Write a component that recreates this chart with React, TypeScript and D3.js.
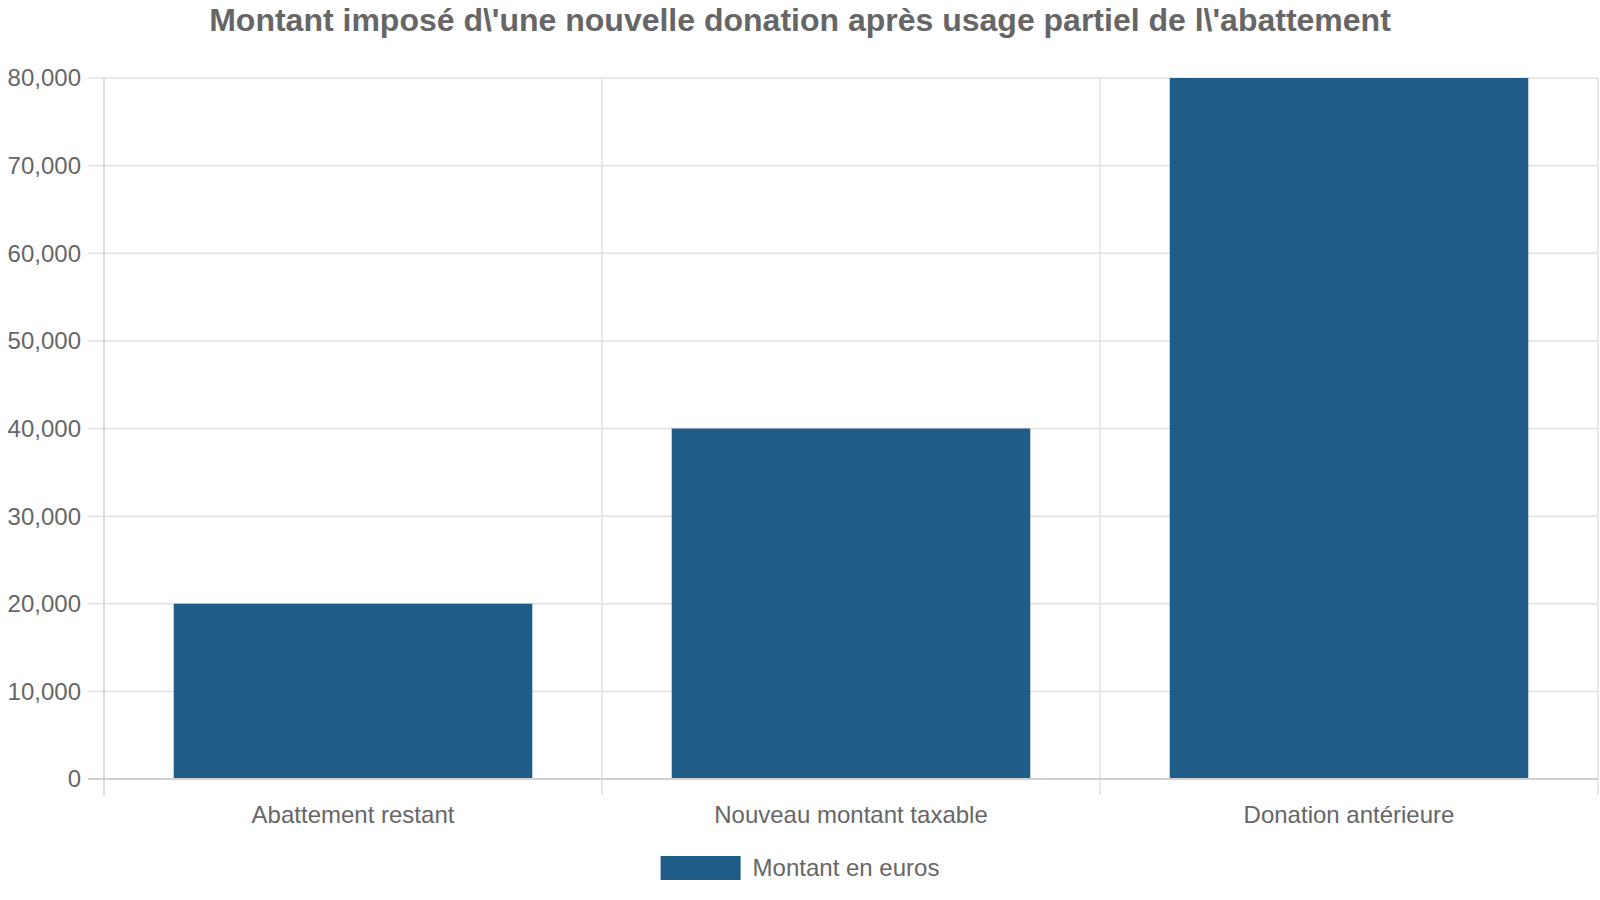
import { useEffect, useRef } from "react"
import * as d3 from "d3"

// chart data
const categories = ["Abattement restant", "Nouveau montant taxable", "Donation antérieure"]
const values = [20000, 40000, 80000]
const yTicks = [0, 10000, 20000, 30000, 40000, 50000, 60000, 70000, 80000]
const seriesName = "Montant en euros"
const title = "Montant imposé d\\'une nouvelle donation après usage partiel de l\\'abattement"

export default function App() {
  const svgRef = useRef<SVGSVGElement>(null)

  useEffect(() => {
    if (!svgRef.current) return
    document.body.style.margin = "0"

    const W = 1600
    const H = 900
    const margin = { top: 78, right: 2, bottom: 121, left: 104 }
    const width = W - margin.left - margin.right
    const height = H - margin.top - margin.bottom
    const font = "'Liberation Sans', Arial, sans-serif"
    const textColor = "#666666"
    const barColor = "#1f5c87"

    const root = d3.select(svgRef.current)
    root.selectAll("*").remove()
    root.attr("width", W).attr("height", H).style("background", "#ffffff")

    // title
    root
      .append("text")
      .attr("x", W / 2)
      .attr("y", 31)
      .attr("text-anchor", "middle")
      .attr("fill", textColor)
      .style("font-family", font)
      .style("font-size", "32px")
      .style("font-weight", "bold")
      .text(title)

    const svg = root.append("g").attr("transform", `translate(${margin.left},${margin.top})`)

    const x = d3.scaleBand().domain(categories).range([0, width]).paddingInner(0.28).paddingOuter(0.14)
    const xGrid = d3.scaleBand().domain(categories).range([0, width]).padding(0)
    const y = d3.scaleLinear().domain([0, 80000]).range([height, 0])

    // horizontal grid lines
    svg
      .append("g")
      .selectAll("line")
      .data(yTicks.filter((d) => d > 0))
      .enter()
      .append("line")
      .attr("x1", -16)
      .attr("x2", width)
      .attr("y1", (d) => y(d))
      .attr("y2", (d) => y(d))
      .attr("stroke", "#e1e1e1")
      .attr("stroke-width", 1.5)

    // vertical grid lines (band boundaries)
    const bounds = categories.map((c) => (xGrid(c) || 0)).concat([width])
    svg
      .append("g")
      .selectAll("line")
      .data(bounds)
      .enter()
      .append("line")
      .attr("x1", (d) => d)
      .attr("x2", (d) => d)
      .attr("y1", 0)
      .attr("y2", height + 16)
      .attr("stroke", (d, i) => (i === 0 ? "#d0d0d0" : "#e1e1e1"))
      .attr("stroke-width", 1.5)

    // bars
    svg
      .append("g")
      .selectAll("rect")
      .data(values)
      .enter()
      .append("rect")
      .attr("x", (d, i) => x(categories[i]) || 0)
      .attr("y", (d) => y(d))
      .attr("width", x.bandwidth())
      .attr("height", (d) => height - y(d))
      .attr("fill", barColor)

    // zero line
    svg
      .append("line")
      .attr("x1", -16)
      .attr("x2", width)
      .attr("y1", y(0))
      .attr("y2", y(0))
      .attr("stroke", "#d0d0d0")
      .attr("stroke-width", 2)

    // y axis labels
    const fmt = d3.format(",")
    svg
      .append("g")
      .selectAll("text")
      .data(yTicks)
      .enter()
      .append("text")
      .attr("x", -23)
      .attr("y", (d) => y(d))
      .attr("dy", "0.35em")
      .attr("text-anchor", "end")
      .attr("fill", textColor)
      .style("font-family", font)
      .style("font-size", "24px")
      .text((d) => fmt(d))

    // x axis labels
    svg
      .append("g")
      .selectAll("text")
      .data(categories)
      .enter()
      .append("text")
      .attr("x", (d) => (x(d) || 0) + x.bandwidth() / 2)
      .attr("y", height + 44)
      .attr("text-anchor", "middle")
      .attr("fill", textColor)
      .style("font-family", font)
      .style("font-size", "24px")
      .text((d) => d)

    // legend
    const legend = root.append("g")
    const legendText = legend
      .append("text")
      .attr("y", 876)
      .attr("fill", textColor)
      .style("font-family", font)
      .style("font-size", "24px")
      .text(seriesName)
    const tw = (legendText.node() as SVGTextElement).getComputedTextLength()
    const boxW = 80
    const gap = 12
    const startX = W / 2 - (boxW + gap + tw) / 2
    legend
      .append("rect")
      .attr("x", startX)
      .attr("y", 856)
      .attr("width", boxW)
      .attr("height", 24)
      .attr("fill", barColor)
    legendText.attr("x", startX + boxW + gap)
  }, [])

  return (
    <div style={{ width: 1600, height: 900 }}>
      <svg ref={svgRef}></svg>
    </div>
  )
}
